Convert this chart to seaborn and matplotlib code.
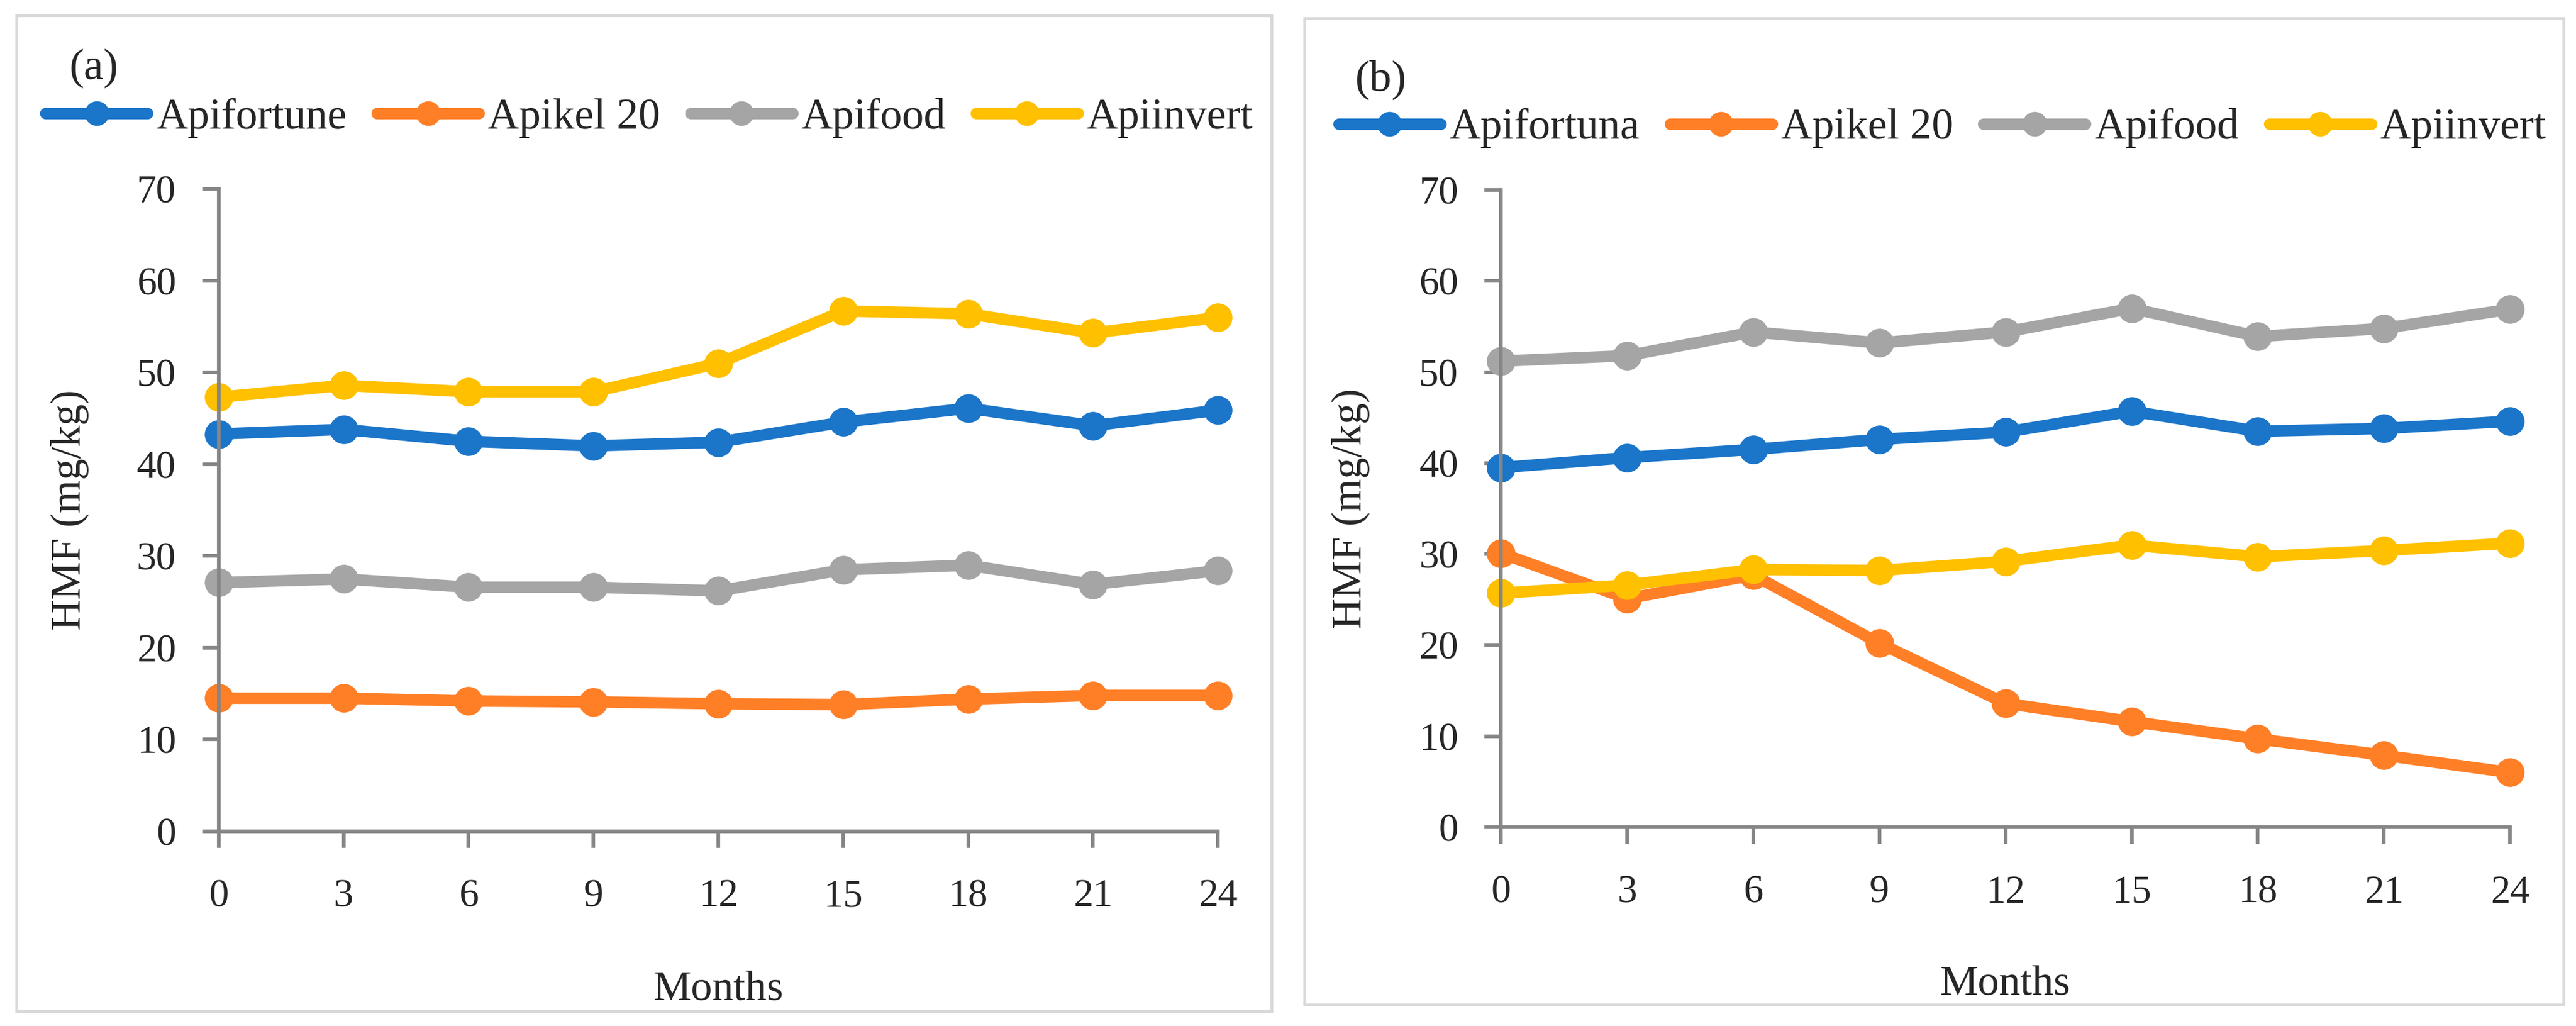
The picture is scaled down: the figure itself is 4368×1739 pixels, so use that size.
import pandas as pd
import matplotlib
matplotlib.use("Agg")
import matplotlib.pyplot as plt
from matplotlib.patches import Rectangle
from matplotlib.lines import Line2D
import seaborn as sns

months = [0, 3, 6, 9, 12, 15, 18, 21, 24]

# panel (a)
a_apifortune = [43.3, 43.8, 42.5, 42.0, 42.4, 44.6, 46.1, 44.2, 45.9]
a_apikel20 = [14.5, 14.5, 14.2, 14.1, 13.9, 13.8, 14.4, 14.8, 14.8]
a_apifood = [27.1, 27.5, 26.6, 26.6, 26.2, 28.5, 29.0, 26.9, 28.4]
a_apiinvert = [47.3, 48.6, 47.9, 47.9, 51.0, 56.7, 56.4, 54.3, 56.0]

# panel (b)
b_apifortuna = [39.5, 40.6, 41.5, 42.6, 43.4, 45.7, 43.5, 43.8, 44.6]
b_apikel20 = [30.1, 25.1, 27.7, 20.2, 13.6, 11.6, 9.7, 7.9, 6.0]
b_apifood = [51.2, 51.8, 54.4, 53.2, 54.4, 57.0, 53.9, 54.8, 56.9]
b_apiinvert = [25.7, 26.6, 28.3, 28.2, 29.2, 31.0, 29.7, 30.4, 31.2]

labels_a = ["Apifortune", "Apikel 20", "Apifood", "Apiinvert"]
labels_b = ["Apifortuna", "Apikel 20", "Apifood", "Apiinvert"]
colors = ["#1B75C9", "#FF7F27", "#A5A5A5", "#FFC000"]


def long_df(labels, series):
    rows = []
    for lab, vals in zip(labels, series):
        for m, v in zip(months, vals):
            rows.append({"Months": m, "HMF": v, "series": lab})
    return pd.DataFrame(rows)


df_a = long_df(labels_a, [a_apifortune, a_apikel20, a_apifood, a_apiinvert])
df_b = long_df(labels_b, [b_apifortuna, b_apikel20, b_apifood, b_apiinvert])

sns.set_style("white")
plt.rcParams["font.family"] = ["Liberation Serif", "DejaVu Serif"]

fig = plt.figure(figsize=(43.68, 17.39), dpi=100)

# panel borders
fig.patches.append(Rectangle((28 / 4368, 1 - 1714 / 1739), (2156 - 28) / 4368, (1714 - 26) / 1739,
                             transform=fig.transFigure, fill=False, edgecolor="#D9D9D9", lw=3.5))
fig.patches.append(Rectangle((2212 / 4368, 1 - 1703 / 1739), (4347 - 2212) / 4368, (1703 - 31) / 1739,
                             transform=fig.transFigure, fill=False, edgecolor="#D9D9D9", lw=3.5))

ax1 = fig.add_axes([0.0849, 0.1898, 0.3879, 0.626])
ax2 = fig.add_axes([0.5827, 0.1938, 0.3917, 0.621])

for ax, df, labels, tag, tagpos, legy, legx in [
    (ax1, df_a, labels_a, "(a)", (0.027, 0.933), 0.885, 0.252),
    (ax2, df_b, labels_b, "(b)", (0.526, 0.922), 0.875, 0.754),
]:
    sns.lineplot(data=df, x="Months", y="HMF", hue="series", hue_order=labels,
                 palette=colors, marker="o", markersize=35, markeredgewidth=0,
                 linewidth=14, ax=ax, legend=False, clip_on=False)
    for ln in ax.lines:
        ln.set_clip_on(False)
        ln.set_solid_joinstyle("round")
    ax.set_xlim(0, 24)
    ax.set_ylim(0, 70)
    ax.set_xticks(months)
    ax.set_yticks(range(0, 71, 10))
    for s in ["top", "right"]:
        ax.spines[s].set_visible(False)
    for s in ["left", "bottom"]:
        ax.spines[s].set_color("#868686")
        ax.spines[s].set_linewidth(4.5)
    ax.tick_params(axis="x", direction="out", length=20, width=4.5, color="#868686",
                   labelsize=48, pad=38, bottom=True)
    ax.tick_params(axis="y", direction="out", length=20, width=4.5, color="#868686",
                   labelsize=48, pad=32, left=True)
    ax.set_xlabel("Months", fontsize=52)
    ax.set_ylabel("HMF (mg/kg)", fontsize=52)
    ax.xaxis.set_label_coords(0.5, -0.216)
    ax.yaxis.set_label_coords(-0.13, 0.5)
    ax.set_facecolor("none")
    fig.text(tagpos[0], tagpos[1], tag, fontsize=54, ha="left", va="center")

    handles = [Line2D([0], [0], color=c, lw=14, marker="o", markersize=30, markeredgewidth=0)
               for c in colors]
    fig.legend(handles, labels, loc="center", bbox_to_anchor=(legx, legy), ncol=4,
               frameon=False, fontsize=53, handlelength=2.35, handletextpad=0.2,
               columnspacing=0.7)

fig.savefig("out.png", dpi=100)
